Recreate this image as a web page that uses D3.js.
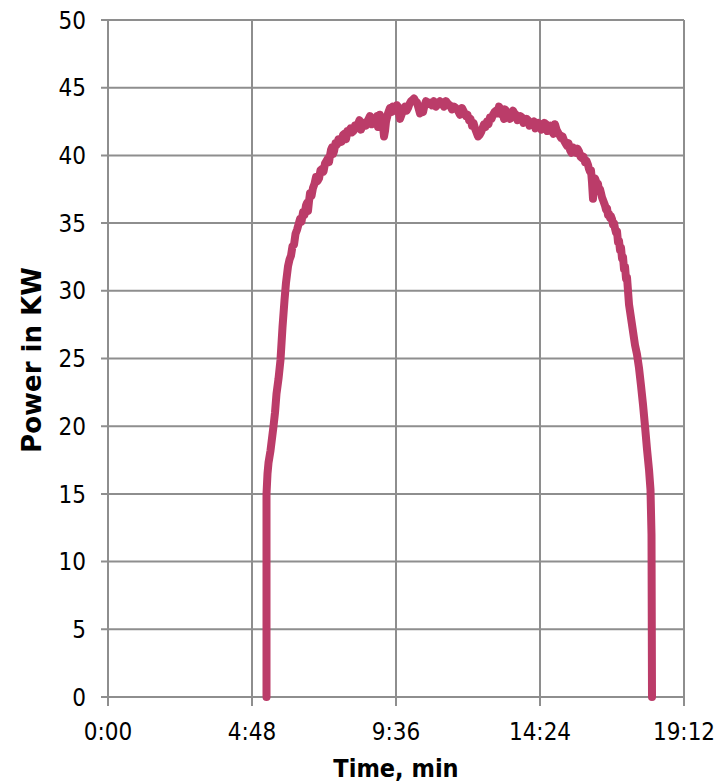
<html>
<script src='https://d3js.org/d3.v7.min.js'></script>
<style>
    body { margin: 0; background: #fff; }
    text { font-family: 'DejaVu Sans Condensed', 'DejaVu Sans', sans-serif; fill: #000; }
    .grid line { stroke: #8e8e8e; stroke-width: 2; }
    .power { fill: none; stroke: #bb3c69; stroke-width: 8; stroke-linejoin: round; stroke-linecap: round; }
</style>

<body onload='init()'>
    <svg width=722 height=784></svg>
    <script>
        // time in minutes (axis is labelled h:mm style)
        let minutes = [317, 317, 319, 321, 325, 331, 334, 337, 341, 345, 349, 353, 356, 360, 363, 366, 369, 372, 375, 378, 381, 384, 387, 390, 393, 396, 398, 400, 402, 404, 407, 410, 413, 416, 419, 422, 425, 428, 431, 434, 437, 440, 442, 444, 446, 448, 450, 452, 455, 458, 461, 464, 467, 470, 473, 476, 479, 482, 485, 488, 491, 494, 497, 500, 503, 506, 509, 512, 516, 520, 524, 528, 532, 536, 538, 540, 542, 544, 546, 548, 550, 552, 554, 556, 560, 564, 567, 570, 573, 576, 578, 580, 582, 584, 586, 588, 591, 594, 597, 600, 603, 606, 609, 612, 615, 618, 621, 624, 627, 630, 633, 636, 640, 644, 648, 652, 656, 660, 664, 668, 672, 676, 680, 684, 688, 692, 696, 700, 704, 708, 712, 716, 719, 722, 725, 728, 731, 734, 737, 740, 743, 746, 749, 752, 755, 758, 761, 764, 767, 770, 773, 776, 779, 782, 784, 786, 788, 790, 792, 794, 796, 798, 801, 804, 807, 810, 813, 816, 819, 822, 825, 828, 831, 834, 837, 840, 843, 846, 849, 852, 855, 858, 861, 864, 867, 870, 873, 876, 879, 882, 885, 888, 891, 894, 897, 900, 903, 906, 909, 912, 915, 918, 921, 924, 927, 930, 933, 936, 939, 942, 945, 948, 951, 954, 957, 960, 962, 964, 966, 968, 969, 970, 971, 972, 974, 976, 978, 980, 982, 984, 986, 988, 991, 994, 996, 998, 1000, 1002, 1004, 1006, 1008, 1010, 1012, 1014, 1016, 1018, 1020, 1022, 1024, 1026, 1028, 1030, 1032, 1034, 1036, 1038, 1040, 1042, 1046, 1050, 1054, 1058, 1062, 1066, 1070, 1074, 1078, 1082, 1085, 1087, 1088, 1089];
        let power = [0, 15, 16.5, 17.3, 18.2, 20, 21, 22.4, 23.5, 24.9, 27.3, 29.3, 30.6, 31.8, 32.3, 32.6, 33.3, 33.4, 34.2, 34.5, 34.9, 35.3, 35.1, 35.8, 35.6, 36.3, 36.5, 35.9, 36.6, 37.2, 37.0, 37.6, 37.9, 38.4, 38.1, 38.3, 38.9, 39.0, 38.8, 39.4, 39.6, 39.8, 39.5, 40.0, 40.4, 40.6, 40.1, 40.3, 40.9, 40.8, 41.2, 41.2, 41.0, 41.5, 41.6, 41.2, 41.8, 41.8, 42.0, 41.7, 41.8, 42.2, 42.0, 42.3, 42.6, 41.9, 42.3, 42.4, 42.2, 42.6, 42.9, 42.3, 42.6, 42.7, 42.9, 42.1, 42.5, 43.0, 42.8, 42.6, 42.2, 41.4, 41.8, 42.5, 43.1, 43.5, 43.2, 43.6, 43.4, 43.3, 43.7, 43.6, 43.1, 42.7, 42.9, 43.1, 43.4, 43.6, 43.3, 43.5, 43.8, 44.0, 44.1, 44.2, 44.0, 43.9, 43.5, 43.1, 43.4, 43.2, 43.7, 44.0, 43.8, 43.9, 43.7, 44.0, 43.6, 43.8, 44.0, 43.9, 43.6, 44.0, 43.8, 43.7, 43.4, 43.6, 43.5, 43.3, 43.0, 43.5, 43.2, 42.9, 43.0, 42.6, 42.7, 42.2, 42.4, 42.0, 41.7, 41.4, 41.5, 41.7, 42.0, 42.3, 42.1, 42.5, 42.3, 42.8, 42.7, 43.0, 43.2, 43.3, 43.1, 43.6, 43.5, 43.3, 43.0, 43.0, 42.7, 43.4, 43.3, 43.2, 42.9, 42.7, 43.1, 43.3, 43.1, 43.0, 42.6, 42.7, 42.9, 42.8, 42.4, 42.5, 42.7, 42.6, 42.2, 42.3, 42.4, 42.5, 42.0, 42.2, 42.4, 42.3, 41.9, 42.1, 42.4, 42.3, 41.8, 42.0, 42.2, 41.8, 41.6, 42.3, 41.9, 41.7, 41.5, 41.3, 41.4, 41.1, 40.9, 40.7, 40.9, 40.4, 40.2, 40.6, 40.3, 40.2, 40.5, 40.3, 39.9, 39.8, 39.9, 39.5, 39.6, 39.3, 39.0, 38.8, 38.9, 38.0, 37.4, 36.8, 37.6, 38.0, 38.3, 38.1, 37.8, 37.9, 37.4, 37.5, 37.2, 36.9, 36.6, 36.3, 36.0, 36.1, 35.6, 35.7, 35.4, 35.5, 35.3, 34.9, 35.0, 34.6, 34.3, 34.4, 33.6, 33.7, 33.0, 33.2, 32.4, 32.5, 31.6, 31.8, 30.9, 31.0, 30.0, 29.0, 28.0, 27.0, 26.0, 25.3, 24.3, 23.0, 21.6, 20.0, 18.3, 16.8, 15.3, 12, 0];

        let xTicks = [0, 288, 576, 864, 1152];
        let xTickLabels = ['0:00', '4:48', '9:36', '14:24', '19:12'];
        let yTicks = [0, 5, 10, 15, 20, 25, 30, 35, 40, 45, 50];

        function init() {
            let svg = d3.select('svg');
            let left = 108, top = 20, w = 576, h = 677;

            let x = d3.scaleLinear().domain([0, 1152]).range([0, w]);
            let y = d3.scaleLinear().domain([0, 50]).range([h, 0]);

            let g = svg.append('g').attr('transform', `translate(${left},${top})`);

            // gridlines
            let grid = g.append('g').attr('class', 'grid');
            grid.selectAll('.hy').data(yTicks).enter().append('line')
                .attr('x1', -7).attr('x2', w)
                .attr('y1', d => y(d)).attr('y2', d => y(d));
            grid.selectAll('.vx').data(xTicks).enter().append('line')
                .attr('x1', d => x(d)).attr('x2', d => x(d))
                .attr('y1', 0).attr('y2', h + 9);

            // tick labels
            g.selectAll('.ylab').data(yTicks).enter().append('text')
                .attr('x', -22).attr('y', d => y(d)).attr('dy', '0.36em')
                .attr('text-anchor', 'end').style('font-size', '24px')
                .text(d => d);
            g.selectAll('.xlab').data(xTicks).enter().append('text')
                .attr('x', d => x(d)).attr('y', h + 43)
                .attr('text-anchor', 'middle').style('font-size', '24px')
                .text((d, i) => xTickLabels[i]);

            // series
            let line = d3.line().x((d, i) => x(minutes[i])).y(d => y(d));
            g.append('path').datum(power).attr('class', 'power').attr('d', line);

            // titles
            svg.append('text').attr('x', 396).attr('y', 777)
                .attr('text-anchor', 'middle').style('font-size', '25px').style('font-weight', 'bold')
                .text('Time, min');
            svg.append('text').attr('transform', 'translate(41,360) rotate(-90)')
                .attr('text-anchor', 'middle').style('font-size', '26px').style('font-weight', 'bold')
                .style('font-family', "'DejaVu Sans', sans-serif")
                .text('Power in KW');
        }
    </script>
</body>

</html>
